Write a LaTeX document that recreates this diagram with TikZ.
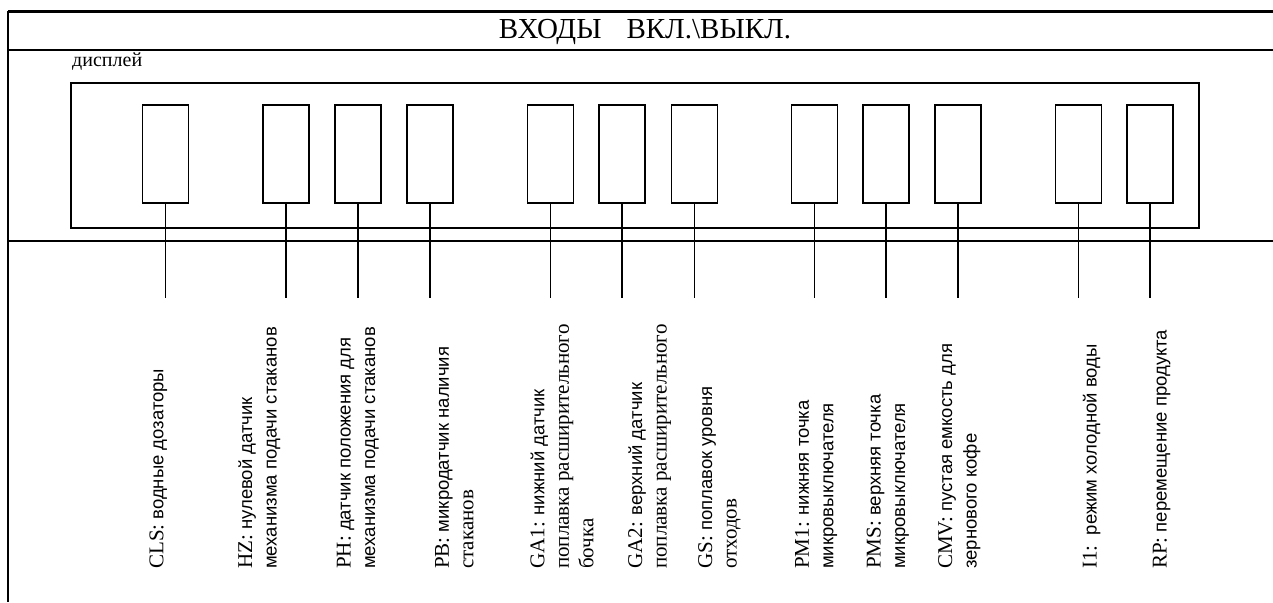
\documentclass[tikz,border=0pt]{standalone}
\usepackage{fontspec}
\setmainfont{Liberation Serif}
\newfontfamily\sanscyr{Liberation Sans}
\usetikzlibrary{positioning}

\newcommand{\sensortag}[1]{{\rmfamily\fontsize{21}{24.5}\selectfont #1}}
\newcommand{\sensorfont}{\fontsize{18.5}{24.5}\selectfont\sanscyr}

\begin{document}
\begin{tikzpicture}
				[x=1pt, y=-1pt,
				frameline/.style={line width=2.6pt},
				thinframe/.style={line width=2pt},
				sensor/.style={rectangle, draw, line width=1.8pt, minimum width=46pt, minimum height=98pt, inner sep=0pt, anchor=north},
				wire/.style={line width=1.8pt},
				sensorlabel/.style={rotate=90, anchor=base west, align=left, inner sep=0pt, font=\sensorfont}]
				\useasboundingbox (0,0) rectangle (1273,602);
				% frame
				\coordinate (top left) at (8,11.3);
				\coordinate (top right) at (1273,11.3);
				\coordinate (bottom left) at (8,602);
				\coordinate (head left) at (8,50);
				\coordinate (head right) at (1273,50);
				\coordinate (bus left) at (8,241);
				\coordinate (bus right) at (1273,241);
				\draw[frameline] (top left) -- (top right);
				\draw[frameline] (head left) -- (head right);
				\draw[thinframe] (bus left) -- (bus right);
				\draw[thinframe] (top left) -- (bottom left);
				\node [font=\fontsize{29}{34}\selectfont, anchor=base, inner sep=0pt] (title) at (645,39) {ВХОДЫ\hspace{25pt}ВКЛ.\textbackslash ВЫКЛ.};
				\node [font=\fontsize{20}{24}\selectfont, anchor=base west, inner sep=0pt] (display caption) at (72,66.7) {дисплей};
				\node [rectangle, draw, line width=1.8pt, minimum width=1128pt, minimum height=145pt, inner sep=0pt, anchor=north west] (display) at (69.8,82.3) {};
				% sensors
				\foreach \name/\x in {cls/165.5, hz/286, ph/358, pb/430, ga1/550.5, ga2/622, gs/694.5, pm1/814.5, pms/886, cmv/958, ione/1078.5, rp/1150}
				{
					\node [sensor] (\name) at (\x,104.3) {};
					\coordinate (\name end) at (\x,298);
					\draw [wire] (\name.south) -- (\name end);
				}
				% labels (anchored at the baseline of the last line)
				\node [sensorlabel] (cls label) at (163.3,569) {\sensortag{CLS:} водные дозаторы};
				\node [sensorlabel] (hz label) at (276.7,569) {\sensortag{HZ:} нулевой датчик\\механизма подачи стаканов};
				\node [sensorlabel] (ph label) at (375,569) {\sensortag{PH:} датчик положения для\\механизма подачи стаканов};
				\node [sensorlabel] (pb label) at (473.3,569) {\sensortag{PB:} микродатчик наличия\\\sensortag{стаканов}};
				\node [sensorlabel] (ga1 label) at (593.3,569) {\sensortag{GA1:} нижний датчик\\\sensortag{поплавка расширительного}\\\sensortag{бочка}};
				\node [sensorlabel] (ga2 label) at (666.7,569) {\sensortag{GA2:} верхний датчик\\\sensortag{поплавка расширительного}};
				\node [sensorlabel] (gs label) at (736.7,569) {\sensortag{GS:} поплавок уровня\\\sensortag{отходов}};
				\node [sensorlabel] (pm1 label) at (833.3,569) {\sensortag{PM1:} нижняя точка\\микровыключателя};
				\node [sensorlabel] (pms label) at (905,569) {\sensortag{PMS:} верхняя точка\\микровыключателя};
				\node [sensorlabel] (cmv label) at (976.7,569) {\sensortag{CMV:} пустая емкость для\\зернового кофе};
				\node [sensorlabel] (ione label) at (1096.7,569) {\sensortag{I1:}\ \ режим холодной воды};
				\node [sensorlabel] (rp label) at (1166.7,569) {\sensortag{RP:} перемещение продукта};
			\end{tikzpicture}
\end{document}
